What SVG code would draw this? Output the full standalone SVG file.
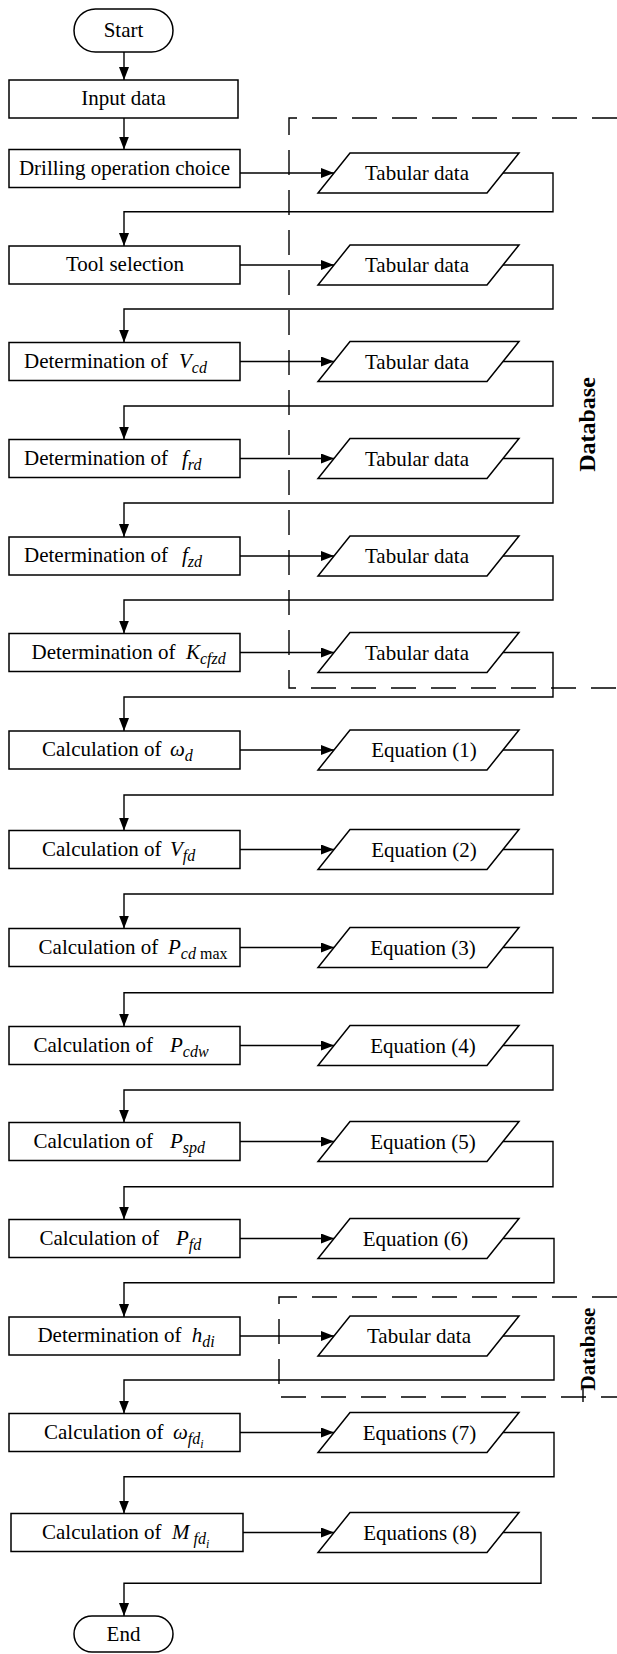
<svg xmlns="http://www.w3.org/2000/svg" width="617" height="1654" viewBox="0 0 617 1654">
<defs>
<marker id="ah" markerWidth="13" markerHeight="10" refX="13" refY="5" orient="auto" markerUnits="userSpaceOnUse">
<path d="M0,0 L13,5 L0,10 Z" fill="#000"/>
</marker>
<style>
.box{fill:#fff;stroke:#000;stroke-width:1.5}
.para{fill:#fff;stroke:#000;stroke-width:1.5}
.t{font-family:"Liberation Serif","Times New Roman",serif;font-size:21px;fill:#000}
.c{text-anchor:middle}
.i{font-style:italic}
.s{font-size:16px}
.ss{font-size:12px}
.ln{fill:none;stroke:#000;stroke-width:1.4}
.dash{fill:none;stroke:#000;stroke-width:1.4;stroke-dasharray:25 15}
.db{font-family:"Liberation Serif","Times New Roman",serif;font-weight:bold;text-anchor:middle;fill:#000}
</style>
</defs>
<rect width="617" height="1654" fill="#fff"/>

<g id="databases">
<path class="dash" d="M617,118 H289 V688 H617"/>
<path class="dash" d="M617,1297 H279 V1397 H617"/>
<path class="ln" d="M583,1387 V1402"/>
<text class="db" font-size="24" transform="translate(595,424.5) rotate(-90)">Database</text>
<text class="db" font-size="21" transform="translate(595,1349) rotate(-90)">Database</text>
</g>

<g id="connectors">
<path class="ln" d="M124,52 V80" marker-end="url(#ah)"/>
<path class="ln" d="M124,118 V149.5" marker-end="url(#ah)"/>
<path class="ln" d="M240,173 H334" marker-end="url(#ah)"/>
<path class="ln" d="M503,173 H553 V211.7 H124 V246" marker-end="url(#ah)"/>
<path class="ln" d="M240,265 H334" marker-end="url(#ah)"/>
<path class="ln" d="M503,265 H553 V309 H124 V342.5" marker-end="url(#ah)"/>
<path class="ln" d="M240,361.5 H334" marker-end="url(#ah)"/>
<path class="ln" d="M503,361.5 H553 V406 H124 V439.5" marker-end="url(#ah)"/>
<path class="ln" d="M240,458.5 H334" marker-end="url(#ah)"/>
<path class="ln" d="M503,458.5 H553 V503 H124 V537" marker-end="url(#ah)"/>
<path class="ln" d="M240,556 H334" marker-end="url(#ah)"/>
<path class="ln" d="M503,556 H553 V600 H124 V633.5" marker-end="url(#ah)"/>
<path class="ln" d="M240,652.5 H334" marker-end="url(#ah)"/>
<path class="ln" d="M503,652.5 H553 V697 H124 V731" marker-end="url(#ah)"/>
<path class="ln" d="M240,750 H334" marker-end="url(#ah)"/>
<path class="ln" d="M503,750 H553 V795 H124 V830.5" marker-end="url(#ah)"/>
<path class="ln" d="M240,849.5 H334" marker-end="url(#ah)"/>
<path class="ln" d="M503,849.5 H553 V894 H124 V928.5" marker-end="url(#ah)"/>
<path class="ln" d="M240,947.5 H334" marker-end="url(#ah)"/>
<path class="ln" d="M503,947.5 H553 V992.7 H124 V1026.5" marker-end="url(#ah)"/>
<path class="ln" d="M240,1045.5 H334" marker-end="url(#ah)"/>
<path class="ln" d="M503,1045.5 H553 V1090 H124 V1122.5" marker-end="url(#ah)"/>
<path class="ln" d="M240,1141.5 H334" marker-end="url(#ah)"/>
<path class="ln" d="M503,1141.5 H553 V1186.7 H124 V1219.5" marker-end="url(#ah)"/>
<path class="ln" d="M240,1238.5 H334" marker-end="url(#ah)"/>
<path class="ln" d="M503,1238.5 H554 V1282.7 H124 V1317" marker-end="url(#ah)"/>
<path class="ln" d="M240,1336 H334" marker-end="url(#ah)"/>
<path class="ln" d="M503,1336 H554 V1380 H124 V1413.5" marker-end="url(#ah)"/>
<path class="ln" d="M240,1432.5 H334" marker-end="url(#ah)"/>
<path class="ln" d="M503,1432.5 H554 V1476.7 H124 V1513.5" marker-end="url(#ah)"/>
<path class="ln" d="M243,1532.5 H334" marker-end="url(#ah)"/>
<path class="ln" d="M503,1532.5 H541 V1583.3 H124 V1616" marker-end="url(#ah)"/>
</g>

<g id="start"><rect class="box" x="74" y="9" width="99" height="43" rx="21.5"/><text class="t c" x="123.5" y="37">Start</text></g>
<g id="input"><rect class="box" x="9" y="80" width="229" height="38"/><text class="t c" x="123.5" y="105">Input data</text></g>
<g id="drilling"><rect class="box" x="9" y="149.5" width="231" height="38"/><text class="t c" x="124.5" y="174.5">Drilling operation choice</text></g>
<g id="tool"><rect class="box" x="9" y="246" width="231" height="38"/><text class="t c" x="125" y="271">Tool selection</text></g>
<g id="vcd"><rect class="box" x="9" y="342.5" width="231" height="38"/><text class="t" x="24" y="367.5">Determination of<tspan class="i" x="179">V</tspan><tspan class="i s" dy="5">cd</tspan></text></g>
<g id="frd"><rect class="box" x="9" y="439.5" width="231" height="38"/><text class="t" x="24" y="464.5">Determination of<tspan class="i" x="182">f</tspan><tspan class="i s" dy="5">rd</tspan></text></g>
<g id="fzd"><rect class="box" x="9" y="537" width="231" height="38"/><text class="t" x="24" y="562">Determination of<tspan class="i" x="182">f</tspan><tspan class="i s" dy="5">zd</tspan></text></g>
<g id="kcfzd"><rect class="box" x="9" y="633.5" width="231" height="38"/><text class="t" x="31.5" y="658.5">Determination of<tspan class="i" x="186">K</tspan><tspan class="i s" dy="5">cfzd</tspan></text></g>
<g id="wd"><rect class="box" x="9" y="731" width="231" height="38"/><text class="t" x="42" y="756">Calculation of<tspan class="i" x="170">ω</tspan><tspan class="i s" dy="5">d</tspan></text></g>
<g id="vfd"><rect class="box" x="9" y="830.5" width="231" height="38"/><text class="t" x="42" y="855.5">Calculation of<tspan class="i" x="170">V</tspan><tspan class="i s" dy="5">fd</tspan></text></g>
<g id="pcdmax"><rect class="box" x="9" y="928.5" width="231" height="38"/><text class="t" x="38.6" y="953.5">Calculation of<tspan class="i" x="168">P</tspan><tspan class="i s" dy="5">cd</tspan><tspan class="s" dx="4">max</tspan></text></g>
<g id="pcdw"><rect class="box" x="9" y="1026.5" width="231" height="38"/><text class="t" x="33.5" y="1051.5">Calculation of<tspan class="i" x="170">P</tspan><tspan class="i s" dy="5">cdw</tspan></text></g>
<g id="pspd"><rect class="box" x="9" y="1122.5" width="231" height="38"/><text class="t" x="33.5" y="1147.5">Calculation of<tspan class="i" x="170">P</tspan><tspan class="i s" dy="5">spd</tspan></text></g>
<g id="pfd"><rect class="box" x="9" y="1219.5" width="231" height="38"/><text class="t" x="39.4" y="1244.5">Calculation of<tspan class="i" x="176">P</tspan><tspan class="i s" dy="5">fd</tspan></text></g>
<g id="hdi"><rect class="box" x="9" y="1317" width="231" height="38"/><text class="t" x="37.4" y="1342">Determination of<tspan class="i" x="191.7">h</tspan><tspan class="i s" dy="5">di</tspan></text></g>
<g id="wfdi"><rect class="box" x="9" y="1413.5" width="231" height="38"/><text class="t" x="44" y="1438.5">Calculation of<tspan class="i" x="173">ω</tspan><tspan class="i s" dy="5">fd</tspan><tspan class="i ss" dy="4">i</tspan></text></g>
<g id="mfdi"><rect class="box" x="11" y="1513.5" width="232" height="38"/><text class="t" x="42" y="1538.5">Calculation of<tspan class="i" x="172">M</tspan><tspan class="i s" dy="5" dx="4">fd</tspan><tspan class="i ss" dy="4">i</tspan></text></g>
<g id="end"><rect class="box" x="74" y="1616" width="99" height="36" rx="18"/><text class="t c" x="123.5" y="1641">End</text></g>

<g id="d1"><path class="para" d="M350,153 H519 L487,193 H318 Z"/><text class="t c" x="417" y="180">Tabular data</text></g>
<g id="d2"><path class="para" d="M350,245 H519 L487,285 H318 Z"/><text class="t c" x="417" y="272">Tabular data</text></g>
<g id="d3"><path class="para" d="M350,341.5 H519 L487,381.5 H318 Z"/><text class="t c" x="417" y="368.5">Tabular data</text></g>
<g id="d4"><path class="para" d="M350,438.5 H519 L487,478.5 H318 Z"/><text class="t c" x="417" y="465.5">Tabular data</text></g>
<g id="d5"><path class="para" d="M350,536 H519 L487,576 H318 Z"/><text class="t c" x="417" y="563">Tabular data</text></g>
<g id="d6"><path class="para" d="M350,632.5 H519 L487,672.5 H318 Z"/><text class="t c" x="417" y="659.5">Tabular data</text></g>
<g id="e1"><path class="para" d="M350,730 H519 L487,770 H318 Z"/><text class="t c" x="424" y="757">Equation (1)</text></g>
<g id="e2"><path class="para" d="M350,829.5 H519 L487,869.5 H318 Z"/><text class="t c" x="424" y="856.5">Equation (2)</text></g>
<g id="e3"><path class="para" d="M350,927.5 H519 L487,967.5 H318 Z"/><text class="t c" x="423" y="954.5">Equation (3)</text></g>
<g id="e4"><path class="para" d="M350,1025.5 H519 L487,1065.5 H318 Z"/><text class="t c" x="423" y="1052.5">Equation (4)</text></g>
<g id="e5"><path class="para" d="M350,1121.5 H519 L487,1161.5 H318 Z"/><text class="t c" x="423" y="1148.5">Equation (5)</text></g>
<g id="e6"><path class="para" d="M350,1218.5 H519 L487,1258.5 H318 Z"/><text class="t c" x="415.5" y="1245.5">Equation (6)</text></g>
<g id="d7"><path class="para" d="M350,1316 H519 L487,1356 H318 Z"/><text class="t c" x="419" y="1343">Tabular data</text></g>
<g id="e7"><path class="para" d="M350,1412.5 H519 L487,1452.5 H318 Z"/><text class="t c" x="419.5" y="1439.5">Equations (7)</text></g>
<g id="e8"><path class="para" d="M350,1512.5 H519 L487,1552.5 H318 Z"/><text class="t c" x="420" y="1539.5">Equations (8)</text></g>
</svg>
